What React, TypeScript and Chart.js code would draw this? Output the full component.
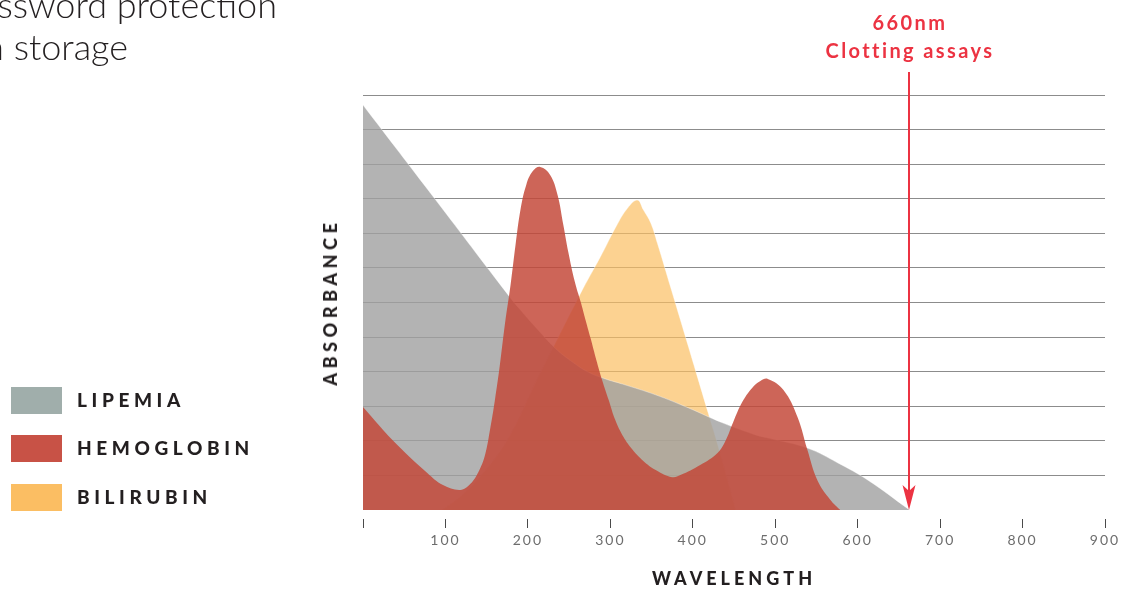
import React, { useEffect, useRef } from 'react';
import { Chart, registerables } from 'chart.js';

Chart.register(...registerables);

// ---- data (wavelength in nm, absorbance in grid units) ----
const wavelengthTicks = [0, 100, 200, 300, 400, 500, 600, 700, 800, 900];

const lipemiaNm = [0, 88, 176, 191, 209, 233, 254, 273, 294, 315, 355, 395, 436, 476, 491, 539, 576, 612, 663];
const lipemiaAbs = [11.71, 8.97, 6.22, 5.78, 5.29, 4.68, 4.28, 3.99, 3.79, 3.64, 3.33, 2.95, 2.52, 2.17, 2.08, 1.79, 1.36, 0.87, 0];

const hemoglobinNm = [0, 36, 78, 97, 118, 130, 140, 148, 154, 160, 166, 172, 179, 185, 191, 198, 206, 215, 227, 236, 243, 249, 257, 264, 270, 276, 283, 290, 298, 306, 316, 327, 340, 355, 375, 385, 409, 430, 440, 449, 460, 472, 482, 491, 510, 527, 539, 551, 567, 579];
const hemoglobinAbs = [2.98, 2.02, 1.07, 0.72, 0.58, 0.75, 1.1, 1.59, 2.31, 3.18, 4.19, 5.35, 6.51, 7.66, 8.68, 9.4, 9.8, 9.92, 9.69, 9.11, 8.24, 7.46, 6.59, 6.02, 5.49, 4.97, 4.34, 3.76, 3.18, 2.6, 2.11, 1.74, 1.42, 1.16, 0.95, 1.01, 1.3, 1.65, 2.02, 2.54, 3.12, 3.53, 3.73, 3.79, 3.47, 2.69, 1.74, 0.87, 0.29, 0];

const bilirubinNm = [96, 118, 142, 175, 211, 264, 288, 308, 321, 333, 340, 349, 357, 373, 395, 419, 431, 452];
const bilirubinAbs = [0, 0.38, 0.96, 2.02, 3.76, 6.27, 7.32, 8.24, 8.73, 8.96, 8.68, 8.3, 7.72, 6.45, 4.7, 2.78, 1.82, 0];

const legendLabels = ['LIPEMIA', 'HEMOGLOBIN', 'BILIRUBIN'];
const legendColors = ['#a0aeab', '#c85246', '#fbbe63'];

const markerNm = 662;
const markerLines = ['660nm', 'Clotting assays'];
const markerColor = '#ec3342';

const toPoints = (xs: number[], ys: number[]) => xs.map((x, i) => ({ x, y: ys[i] }));

const markerPlugin = {
  id: 'marker',
  beforeDraw(chart: any) {
    chart.ctx.letterSpacing = '2px';
  },
  afterDraw(chart: any) {
    const { ctx, scales, chartArea } = chart;
    const px = Math.round(scales.x.getPixelForValue(markerNm));
    const bottom = scales.y.getPixelForValue(0);
    const top = chartArea.top - 23;
    ctx.save();
    ctx.letterSpacing = '0px';
    ctx.strokeStyle = markerColor;
    ctx.fillStyle = markerColor;
    ctx.lineWidth = 2;
    ctx.beginPath();
    ctx.moveTo(px, top);
    ctx.lineTo(px, bottom - 12);
    ctx.stroke();
    ctx.beginPath();
    ctx.moveTo(px, bottom);
    ctx.lineTo(px - 6.5, bottom - 25);
    ctx.lineTo(px, bottom - 19);
    ctx.lineTo(px + 6.5, bottom - 25);
    ctx.closePath();
    ctx.fill();
    ctx.font = '700 20px Lato, "DejaVu Sans", sans-serif';
    ctx.letterSpacing = '2.4px';
    ctx.textAlign = 'center';
    ctx.textBaseline = 'middle';
    ctx.fillText(markerLines[0], px + 1, chartArea.top - 71);
    ctx.fillText(markerLines[1], px + 1, chartArea.top - 43);
    ctx.restore();
  },
};

function ChartCanvas() {
  const ref = useRef<HTMLCanvasElement | null>(null);
  useEffect(() => {
    if (!ref.current) return;
    const chart = new Chart(ref.current, {
      type: 'line',
      data: {
        datasets: [
          {
            label: 'Hemoglobin',
            data: toPoints(hemoglobinNm, hemoglobinAbs),
            backgroundColor: 'rgba(196,71,56,0.84)',
            borderColor: 'rgba(196,71,56,0)',
            borderWidth: 0,
            fill: 'origin',
            pointRadius: 0,
            tension: 0.4,
            order: 0,
          },
          {
            label: 'Lipemia',
            data: toPoints(lipemiaNm, lipemiaAbs),
            backgroundColor: 'rgba(160,160,160,0.8)',
            borderColor: 'rgba(255,255,255,0.45)',
            borderWidth: 0.8,
            fill: 'origin',
            pointRadius: 0,
            tension: 0.4,
            order: 1,
          },
          {
            label: 'Bilirubin',
            data: toPoints(bilirubinNm, bilirubinAbs),
            backgroundColor: 'rgba(251,191,98,0.7)',
            borderColor: 'rgba(255,255,255,0.45)',
            borderWidth: 0.8,
            fill: 'origin',
            pointRadius: 0,
            tension: 0.4,
            order: 2,
          },
        ],
      },
      options: {
        animation: false,
        responsive: false,
        devicePixelRatio: 1,
        layout: { padding: { left: 363, right: 24, top: 95, bottom: 42 } },
        plugins: { legend: { display: false }, tooltip: { enabled: false } },
        scales: {
          x: {
            type: 'linear',
            min: 0,
            max: 900,
            afterFit: (s: any) => { s.height = 39; },
            afterBuildTicks: (s: any) => { s.ticks = wavelengthTicks.map((v) => ({ value: v })); },
            border: { display: false },
            grid: {
              drawOnChartArea: false,
              drawTicks: true,
              tickLength: 18,
              tickColor: '#4a4a4a',
              tickWidth: 1,
              tickBorderDash: [0, 9, 9],
            },
            ticks: {
              padding: 4,
              color: '#6d6d6d',
              font: { family: 'Lato, "DejaVu Sans", sans-serif', size: 14 },
              maxRotation: 0,
              autoSkip: false,
              callback: (v: any) => (Number(v) === 0 ? '' : String(v)),
            },
          },
          y: {
            min: 0,
            max: 12,
            z: 1,
            afterFit: (s: any) => { s.width = 0; },
            border: { display: false },
            grid: {
              drawTicks: false,
              lineWidth: 1,
              color: (c: any) => (c.tick && c.tick.value === 0 ? 'rgba(0,0,0,0)' : 'rgba(95,95,95,0.72)'),
            },
            ticks: { display: false, stepSize: 1 },
          },
        },
      },
      plugins: [markerPlugin],
    } as any);
    return () => chart.destroy();
  }, []);
  return (
    <canvas
      ref={ref}
      width={1129}
      height={591}
      style={{ position: 'absolute', left: 0, top: 0, width: 1129, height: 591 }}
    />
  );
}

const boldLabel: React.CSSProperties = {
  fontFamily: 'Lato, "DejaVu Sans", sans-serif',
  fontWeight: 900,
  fontSize: 19,
  letterSpacing: '4.6px',
  color: '#231f20',
  whiteSpace: 'nowrap',
  lineHeight: '20px',
};

const introText: React.CSSProperties = {
  position: 'absolute',
  left: -400,
  textAlign: 'right',
  fontFamily: 'Lato, "DejaVu Sans", sans-serif',
  fontWeight: 300,
  fontSize: 36,
  lineHeight: '42px',
  color: '#231f20',
  whiteSpace: 'nowrap',
};

export default function App() {
  const swatchTops = [387, 435, 484];
  return (
    <div
      style={{
        position: 'absolute',
        left: 0,
        top: 0,
        width: 1129,
        height: 591,
        overflow: 'hidden',
        background: '#ffffff',
      }}
    >
      <ChartCanvas />
      <div style={{ ...introText, width: 677, top: -17 }}>Password protection</div>
      <div style={{ ...introText, width: 528, top: 25 }}>Data storage</div>
      {legendLabels.map((lab, i) => (
        <React.Fragment key={lab}>
          <div
            style={{
              position: 'absolute',
              left: 11,
              top: swatchTops[i],
              width: 51,
              height: 27,
              background: legendColors[i],
            }}
          />
          <div style={{ ...boldLabel, position: 'absolute', left: 77, top: swatchTops[i] + 3 }}>{lab}</div>
        </React.Fragment>
      ))}
      <div
        style={{
          ...boldLabel,
          fontSize: 18,
          letterSpacing: '4px',
          position: 'absolute',
          left: 734,
          top: 578,
          transform: 'translate(-50%, -50%)',
        }}
      >
        WAVELENGTH
      </div>
      <div
        style={{
          ...boldLabel,
          fontSize: 18,
          letterSpacing: '4.6px',
          position: 'absolute',
          left: 330,
          top: 302,
          transform: 'translate(-50%, -50%) rotate(-90deg)',
        }}
      >
        ABSORBANCE
      </div>
    </div>
  );
}
